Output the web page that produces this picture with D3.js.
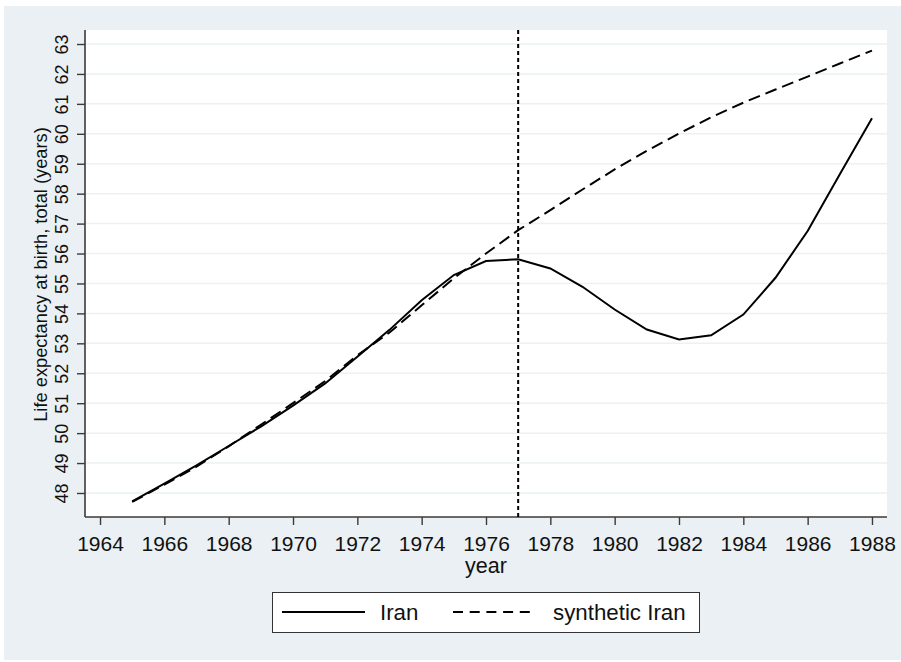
<!DOCTYPE html>
<html><head><meta charset="utf-8">
<script src="https://cdn.jsdelivr.net/npm/d3@7"></script>
<style>html,body{margin:0;padding:0;background:#fff;} svg{display:block;font-family:"Liberation Sans",Arial,Helvetica,sans-serif;}</style>
</head><body>
<script>
const years = [1965,1966,1967,1968,1969,1970,1971,1972,1973,1974,1975,1976,1977,1978,1979,1980,1981,1982,1983,1984,1985,1986,1987,1988];
const iran = [47.72,48.31,48.92,49.57,50.22,50.92,51.66,52.55,53.45,54.44,55.28,55.75,55.81,55.50,54.89,54.13,53.46,53.13,53.27,53.96,55.19,56.75,58.65,60.52];
const synthetic = [47.70,48.28,48.88,49.56,50.28,51.00,51.74,52.60,53.36,54.27,55.17,56.00,56.78,57.45,58.14,58.81,59.43,60.01,60.55,61.04,61.48,61.91,62.35,62.78];
const xTicks = [1964,1966,1968,1970,1972,1974,1976,1978,1980,1982,1984,1986,1988];
const yTicks = [48,49,50,51,52,53,54,55,56,57,58,59,60,61,62,63];
const treatYear = 1977;
const seriesNames = ["Iran","synthetic Iran"];
const xTitle = "year";
const yTitle = "Life expectancy at birth, total (years)";

const W = 901, H = 662;
const plot = {left:85, right:887, top:30, bottom:517};
const svg = d3.select("body").append("svg").attr("width",W).attr("height",H);

svg.append("rect").attr("x",4).attr("y",6).attr("width",W-4).attr("height",654).attr("fill","#EAF0F3");
svg.append("rect").attr("x",plot.left).attr("y",plot.top).attr("width",plot.right-plot.left).attr("height",plot.bottom-plot.top).attr("fill","#fff");

const x = d3.scaleLinear().domain([1963.533,1988.467]).range([plot.left,plot.right]);
const y = d3.scaleLinear().domain([47.198,63.468]).range([plot.bottom,plot.top]);

// grid
svg.append("g").selectAll("line").data(yTicks).join("line")
  .attr("x1",plot.left).attr("x2",plot.right)
  .attr("y1",d=>y(d)).attr("y2",d=>y(d))
  .attr("stroke","#EAF2F3").attr("stroke-width",1.5);

// axes
const yAxis = svg.append("g").attr("transform",`translate(${plot.left},0)`)
  .call(d3.axisLeft(y).tickValues(yTicks).tickSize(8).tickPadding(0).tickFormat(d3.format("d")));
yAxis.select(".domain").attr("stroke","#3a3a3a").attr("stroke-width",1.6).attr("d",`M0,${plot.top}V${plot.bottom}`);
yAxis.selectAll(".tick line").attr("stroke","#3a3a3a").attr("stroke-width",1.4);
yAxis.selectAll(".tick text").attr("x",0).attr("dy",null).attr("y",0)
  .attr("transform","translate(-17,0) rotate(-90)")
  .attr("text-anchor","middle").attr("font-size",18).attr("fill","#111");

const xAxis = svg.append("g").attr("transform",`translate(0,${plot.bottom})`)
  .call(d3.axisBottom(x).tickValues(xTicks).tickSize(8).tickFormat(d3.format("d")));
xAxis.select(".domain").attr("stroke","#3a3a3a").attr("stroke-width",1.6).attr("d",`M${plot.left},0H${plot.right}`);
xAxis.selectAll(".tick line").attr("stroke","#3a3a3a").attr("stroke-width",1.4);
xAxis.selectAll(".tick text").attr("y",34).attr("dy",null).attr("font-size",21).attr("fill","#111");

// titles
svg.append("text").attr("transform",`translate(47,${(plot.top+plot.bottom)/2+1}) rotate(-90)`)
  .attr("text-anchor","middle").attr("font-size",18.3).attr("fill","#111").text(yTitle);
svg.append("text").attr("x",(plot.left+plot.right)/2).attr("y",573)
  .attr("text-anchor","middle").attr("font-size",21.5).attr("fill","#111").text(xTitle);

// treatment line
svg.append("line").attr("x1",x(treatYear)).attr("x2",x(treatYear)).attr("y1",plot.top).attr("y2",plot.bottom)
  .attr("stroke","#000").attr("stroke-width",2).attr("stroke-dasharray","4,3");

const line = d3.line().x((d,i)=>x(years[i])).y(d=>y(d));
svg.append("path").attr("d",line(synthetic)).attr("fill","none").attr("stroke","#000").attr("stroke-width",2).attr("stroke-dasharray","12,6");
svg.append("path").attr("d",line(iran)).attr("fill","none").attr("stroke","#000").attr("stroke-width",2);

// legend
const lg = svg.append("g");
lg.append("rect").attr("x",272.5).attr("y",592.5).attr("width",427).attr("height",40).attr("fill","#fff").attr("stroke","#333").attr("stroke-width",1);
lg.append("line").attr("x1",282).attr("x2",365).attr("y1",612).attr("y2",612).attr("stroke","#000").attr("stroke-width",2);
lg.append("text").attr("x",380).attr("y",620).attr("font-size",22.3).attr("fill","#111").text(seriesNames[0]);
lg.append("line").attr("x1",453).attr("x2",536).attr("y1",612).attr("y2",612).attr("stroke","#000").attr("stroke-width",2).attr("stroke-dasharray","10,6.7");
lg.append("text").attr("x",553).attr("y",620).attr("font-size",22.3).attr("fill","#111").text(seriesNames[1]);
</script>
</body></html>
